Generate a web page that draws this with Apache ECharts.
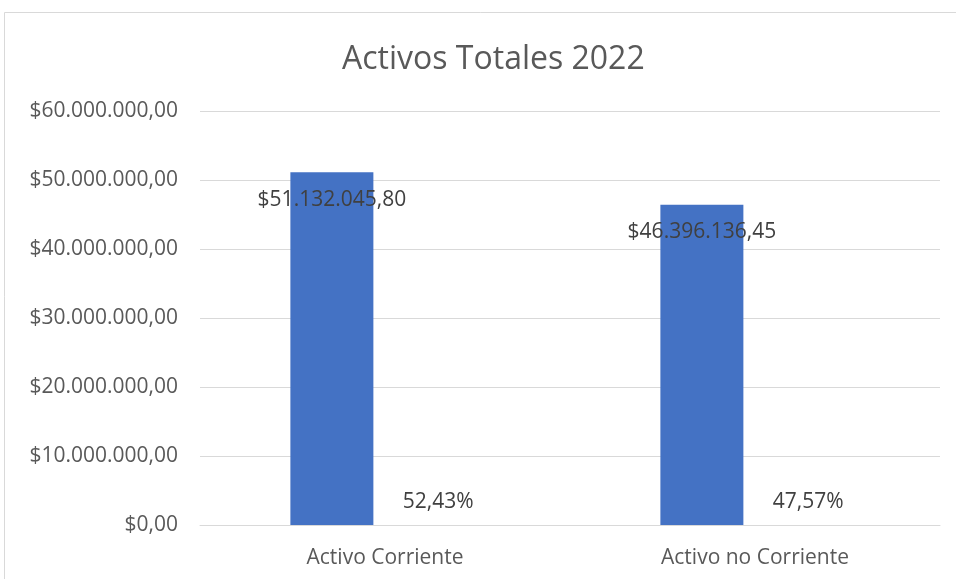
<!DOCTYPE html>
<html><head><meta charset="utf-8">
<script src="https://cdn.jsdelivr.net/npm/echarts@6/dist/echarts.min.js"></script>
<style>html,body{margin:0;padding:0;background:#fff}#c{width:956px;height:579px}</style>
</head><body><div id="c"></div>
<script>
const categories = ['Activo Corriente', 'Activo no Corriente'];
const amounts = [51132045.80, 46396136.45];
const percents = [52.43, 47.57];
const yTicks = [0, 10000000, 20000000, 30000000, 40000000, 50000000, 60000000];

function fmtMoney(v) {
  const parts = Number(v).toFixed(2).split('.');
  const intPart = parts[0].replace(/\B(?=(\d{3})+(?!\d))/g, '.');
  return '$' + intPart + ',' + parts[1];
}
function fmtPct(v) { return Number(v).toFixed(2).replace('.', ',') + '%'; }

const FONT = '"Open Sans", "Noto Sans", sans-serif';
const chart = echarts.init(document.getElementById('c'));
chart.setOption({
  animation: false,
  backgroundColor: '#fff',
  textStyle: { fontFamily: FONT },
  graphic: [{ type: 'rect', shape: { x: 4.5, y: 12.5, width: 1200, height: 1200 }, style: { fill: 'none', stroke: '#d9d9d9', lineWidth: 1 }, silent: true }],
  title: { text: 'Activos Totales 2022', left: 337, top: 39, textStyle: { fontFamily: FONT, fontSize: 32, fontWeight: 'normal', color: '#595959' } },
  grid: { left: 200, right: 16, top: 111, bottom: 54, containLabel: false },
  xAxis: { type: 'category', data: categories, axisLine: { lineStyle: { color: '#d9d9d9' } }, axisTick: { show: false },
    axisLabel: { color: '#595959', fontSize: 21, margin: 23, fontFamily: FONT } },
  yAxis: { type: 'value', min: yTicks[0], max: yTicks[yTicks.length - 1], interval: 10000000,
    axisLine: { show: false }, axisTick: { show: false },
    splitLine: { lineStyle: { color: '#d9d9d9' } },
    axisLabel: { color: '#595959', fontSize: 21, margin: 22, formatter: fmtMoney, fontFamily: FONT } },
  series: [
    { type: 'bar', data: amounts, barWidth: 83, barGap: '28%', itemStyle: { color: '#4472c4' },
      label: { show: true, position: 'insideTop', distance: 17, color: '#404040', fontSize: 21, fontFamily: FONT, formatter: p => fmtMoney(p.value) } },
    { type: 'bar', data: percents, barWidth: 83, itemStyle: { color: 'rgba(0,0,0,0)' },
      label: { show: true, position: 'top', distance: 12, color: '#404040', fontSize: 21, fontFamily: FONT, formatter: p => fmtPct(p.value) } }
  ]
});
</script></body></html>
